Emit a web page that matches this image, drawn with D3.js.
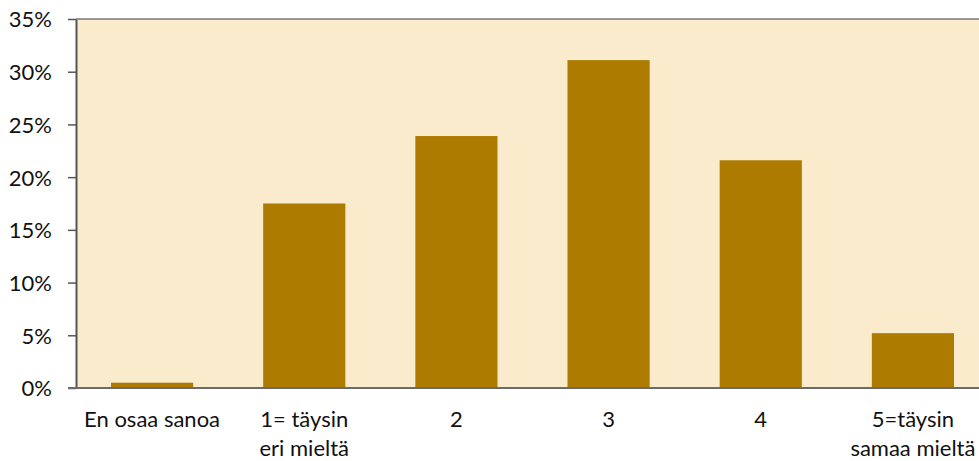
<!DOCTYPE html>
<html><head><meta charset="utf-8">
<script src="https://cdn.jsdelivr.net/npm/d3@7"></script>
<style>body{margin:0;background:#fff}svg{display:block}</style>
</head><body>
<script>
const categories = [["En osaa sanoa"],["1= täysin","eri mieltä"],["2"],["3"],["4"],["5=täysin","samaa mieltä"]];
const values = [0.5, 17.5, 23.9, 31.1, 21.6, 5.2];
const yTicks = [0,5,10,15,20,25,30,35];

const W=979,H=461;
const m={left:76,top:19,right:-10,bottom:73};
const svg=d3.select("body").append("svg").attr("width",W).attr("height",H);
const x=d3.scaleBand().domain(d3.range(categories.length)).range([m.left,W-m.right]).paddingInner(0.46).paddingOuter(0.23);
const y=d3.scaleLinear().domain([0,35]).range([H-m.bottom,m.top]);
const font="Lato, 'Open Sans', sans-serif";

svg.append("rect").attr("x",m.left).attr("y",m.top).attr("width",W-m.right-m.left).attr("height",y(0)-m.top).attr("fill","#F9EBCB");
svg.append("line").attr("x1",m.left).attr("x2",W).attr("y1",m.top).attr("y2",m.top).attr("stroke","#7a7a7a").attr("stroke-width",1.5);

svg.selectAll("rect.bar").data(values).join("rect").attr("class","bar")
 .attr("x",(d,i)=>x(i)).attr("width",x.bandwidth())
 .attr("y",d=>y(d)).attr("height",d=>y(0)-y(d))
 .attr("fill","#AD7B00");

const ya=svg.append("g").attr("transform",`translate(${m.left},0)`)
 .call(d3.axisLeft(y).tickValues(yTicks).tickFormat(d=>d+"%").tickSize(8).tickSizeOuter(0));
ya.select(".domain").attr("stroke","#555").attr("stroke-width",2);
ya.selectAll(".tick line").attr("stroke","#555").attr("stroke-width",1.5);
ya.selectAll(".tick text").attr("font-family",font).attr("font-size",22).attr("fill","#111").attr("x",-24).attr("dy","0.36em");

svg.append("line").attr("x1",m.left-8).attr("x2",W).attr("y1",y(0)).attr("y2",y(0)).attr("stroke","#6b6b6b").attr("stroke-width",2);

const xl=svg.append("g");
categories.forEach((c,i)=>{
  const t=xl.append("text").attr("x",x(i)+x.bandwidth()/2).attr("y",y(0)+39)
   .attr("text-anchor","middle").attr("font-family",font).attr("font-size",22).attr("fill","#111");
  c.forEach((s,j)=>t.append("tspan").attr("x",x(i)+x.bandwidth()/2).attr("dy",j?29:0).text(s));
});
</script>
</body></html>
